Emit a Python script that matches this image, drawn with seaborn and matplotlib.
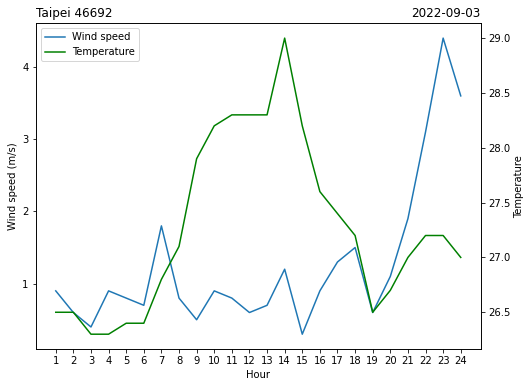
import matplotlib
matplotlib.use("Agg")
import matplotlib.pyplot as plt
import seaborn as sns
import pandas as pd

hours = list(range(1, 25))
wind_speed = [0.9, 0.6, 0.4, 0.9, 0.8, 0.7, 1.8, 0.8, 0.5, 0.9, 0.8, 0.6,
              0.7, 1.2, 0.3, 0.9, 1.3, 1.5, 0.6, 1.1, 1.9, 3.1, 4.4, 3.6]
temperature = [26.5, 26.5, 26.3, 26.3, 26.4, 26.4, 26.8, 27.1, 27.9, 28.2, 28.3, 28.3,
               28.3, 29.0, 28.2, 27.6, 27.4, 27.2, 26.5, 26.7, 27.0, 27.2, 27.2, 27.0]
station = "Taipei 46692"
date = "2022-09-03"

df = pd.DataFrame({"Hour": hours, "Wind speed": wind_speed, "Temperature": temperature})

plt.rcParams["font.family"] = ["DejaVu Sans"]
plt.rcParams["font.size"] = 10

fig = plt.figure(figsize=(531 / 72, 387 / 72), dpi=72)
ax = fig.add_axes([35.5 / 531, 1 - 349 / 387, (481 - 35.5) / 531, (349 - 23.3) / 387])
sns.lineplot(data=df, x="Hour", y="Wind speed", ax=ax, color="#1f77b4", label="Wind speed", legend=False)
ax2 = ax.twinx()
sns.lineplot(data=df, x="Hour", y="Temperature", ax=ax2, color="green", label="Temperature", legend=False)

ax.set_xticks(hours)
ax.set_xticklabels([str(h) for h in hours])
ax.set_xlabel("Hour")
ax.set_ylabel("Wind speed (m/s)")
ax2.set_ylabel("Temperature")
ax.set_yticks([1, 2, 3, 4])
ax2.set_yticks([26.5, 27.0, 27.5, 28.0, 28.5, 29.0])

ax.set_title(station, loc="left")
ax.set_title(date, loc="right")

h1, l1 = ax.get_legend_handles_labels()
h2, l2 = ax2.get_legend_handles_labels()
ax.legend(h1 + h2, l1 + l2, loc="upper left")

fig.savefig("out.png", dpi=72, facecolor="white")
